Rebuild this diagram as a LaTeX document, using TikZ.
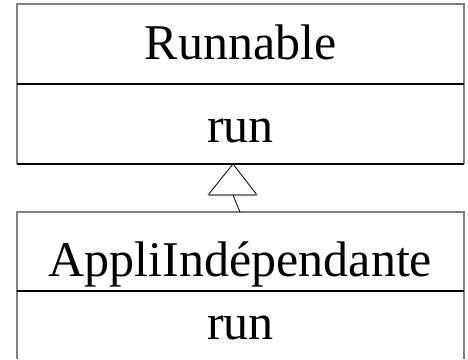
\documentclass[tikz,border=0pt]{standalone}
\usepackage{fontspec}
\setmainfont{Liberation Serif}
\definecolor{framegray}{HTML}{808080}
\begin{document}
\begin{tikzpicture}[x=1pt,y=-1pt,
  frame/.style={draw=framegray, line width=1.8pt},
  rule/.style={draw=black, line width=1.1pt},
  thin/.style={draw=black, line width=0.8pt},
  label/.style={font=\fontsize{50}{54}\selectfont, inner sep=0pt, anchor=base}]
\useasboundingbox (0,0) rectangle (468,359);

% interface Runnable
\draw[frame] (17,164) -- (17,4) -- (464,4) -- (464,164);
\draw[rule] (17,84) -- (464,84);
\draw[rule] (17,164) -- (464,164);
\node[label] (runnable) at (240.5,59) {Runnable};
\node[label] (runtop) at (240.5,142) {run};

% class AppliIndépendante
\draw[frame] (17,359) -- (17,212) -- (464,212) -- (464,359);
\draw[rule] (17,291) -- (464,291);
\node[label] (appli) at (240.5,276) {AppliIndépendante};
\node[label] (runbot) at (240.5,339) {run};

% realization arrow
\coordinate (apex) at (233,164);
\coordinate (bl) at (208,195);
\coordinate (br) at (257,195);
\coordinate (basemid) at (233,195);
\coordinate (foot) at (240,212);
\draw[thin] (bl) -- (apex) -- (br);
\draw[frame] (bl) -- (br);
\draw[thin] (basemid) -- (foot);
\end{tikzpicture}
\end{document}
